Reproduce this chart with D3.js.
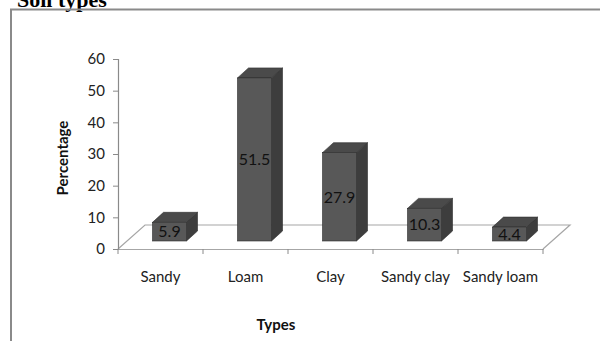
<!DOCTYPE html>
<html>
<head>
<meta charset="utf-8">
<script src="https://cdn.jsdelivr.net/npm/d3@7"></script>
<style>
  body { margin: 0; background: #fff; }
  text { font-family: Lato, "Open Sans", sans-serif; }
</style>
</head>
<body>
<div id="chart"></div>
<script>
// chart data
const categories = ["Sandy", "Loam", "Clay", "Sandy clay", "Sandy loam"];
const percentages = [5.9, 51.5, 27.9, 10.3, 4.4];
const yTicks = [0, 10, 20, 30, 40, 50, 60];

const svgWidth = 600;
const svgHeight = 341;

// front plane of the 3d box
const plot = { left: 118, right: 543, top: 59, bottom: 249 };
// floor depth and the bar's own depth
const floorDepth = { dx: 27, dy: -24 };
const barFront = { dx: 9, dy: -8 };
const barDepth = { dx: 11, dy: -10 };

const svg = d3.select("#chart")
  .append("svg")
  .attr("width", svgWidth)
  .attr("height", svgHeight);

// title, mostly cut off at the top
svg.append("text")
  .attr("x", 17)
  .attr("y", 7)
  .style("font-family", "'Liberation Serif', 'Times New Roman', serif")
  .style("font-weight", "bold")
  .style("font-size", "22px")
  .text("Soil types");

// frame
svg.append("path")
  .attr("d", `M11,${svgHeight} L11,9.5 L${svgWidth},9.5`)
  .attr("fill", "none")
  .attr("stroke", "#8a8a8a")
  .attr("stroke-width", 2);

const xScale = d3.scaleBand()
  .domain(categories)
  .range([plot.left, plot.right])
  .paddingInner(0.6)
  .paddingOuter(0.3);

const yScale = d3.scaleLinear()
  .domain([0, 60])
  .range([plot.bottom, plot.top]);

// floor
const floor = svg.append("g");
floor.append("path")
  .attr("d", `M${plot.left},${plot.bottom}
    L${plot.left + floorDepth.dx},${plot.bottom + floorDepth.dy}
    L${plot.right + floorDepth.dx},${plot.bottom + floorDepth.dy}
    L${plot.right},${plot.bottom}`)
  .attr("fill", "none")
  .attr("stroke", "#a6a6a6")
  .attr("stroke-width", 1.2);

// y axis
const leftAxis = d3.axisLeft(yScale)
  .tickValues(yTicks)
  .tickSize(5)
  .tickPadding(8);

const yAxis = svg.append("g")
  .attr("transform", `translate(${plot.left},0)`)
  .call(leftAxis);
yAxis.select(".domain").attr("stroke", "#8a8a8a").attr("stroke-width", 1.2);
yAxis.selectAll(".tick line").attr("stroke", "#8a8a8a");
yAxis.selectAll(".tick text")
  .style("font-size", "15px")
  .attr("fill", "#222");

// x axis with ticks between categories
const bottomAxis = d3.axisBottom(xScale).tickSize(0).tickPadding(22);
const xAxis = svg.append("g")
  .attr("transform", `translate(0,${plot.bottom})`)
  .call(bottomAxis);
xAxis.select(".domain").attr("stroke", "#a6a6a6").attr("stroke-width", 1.2);
xAxis.selectAll(".tick text")
  .style("font-size", "15px")
  .attr("fill", "#222");

const step = xScale.step();
const bounds = d3.range(categories.length + 1).map(i => plot.left + i * step);
xAxis.selectAll(".sep")
  .data(bounds)
  .enter()
  .append("line")
  .attr("x1", d => d)
  .attr("x2", d => d)
  .attr("y1", 0)
  .attr("y2", 5)
  .attr("stroke", "#8a8a8a");

// bars
const bars = svg.selectAll(".bar")
  .data(categories.map((c, i) => ({ cat: c, value: percentages[i] })))
  .enter()
  .append("g")
  .attr("class", "bar");

function x0(d) { return xScale(d.cat) + barFront.dx; }
function x1(d) { return x0(d) + xScale.bandwidth(); }
function yTop(d) { return yScale(d.value) + barFront.dy; }
const yBase = plot.bottom + barFront.dy;

// side face
bars.append("path")
  .attr("d", d => `M${x1(d)},${yTop(d)} L${x1(d) + barDepth.dx},${yTop(d) + barDepth.dy}
    L${x1(d) + barDepth.dx},${yBase + barDepth.dy} L${x1(d)},${yBase} Z`)
  .attr("fill", "#3d3d3d")
  .attr("stroke", "#2e2e2e")
  .attr("stroke-width", 0.6);

// top face
bars.append("path")
  .attr("d", d => `M${x0(d)},${yTop(d)} L${x0(d) + barDepth.dx},${yTop(d) + barDepth.dy}
    L${x1(d) + barDepth.dx},${yTop(d) + barDepth.dy} L${x1(d)},${yTop(d)} Z`)
  .attr("fill", "#4a4a4a")
  .attr("stroke", "#2e2e2e")
  .attr("stroke-width", 0.6);

// front face
bars.append("rect")
  .attr("x", d => x0(d))
  .attr("y", d => yTop(d))
  .attr("width", xScale.bandwidth())
  .attr("height", d => yBase - yTop(d))
  .attr("fill", "#585858")
  .attr("stroke", "#2e2e2e")
  .attr("stroke-width", 0.6);

// value labels
bars.append("text")
  .attr("x", d => (x0(d) + x1(d)) / 2)
  .attr("y", d => (yTop(d) + yBase) / 2)
  .attr("text-anchor", "middle")
  .attr("dy", "0.36em")
  .style("font-size", "16px")
  .attr("fill", "#111")
  .text(d => d.value);

// axis titles
svg.append("text")
  .attr("transform", "translate(68,158) rotate(-90)")
  .attr("text-anchor", "middle")
  .style("font-size", "15px")
  .style("font-weight", "bold")
  .attr("fill", "#111")
  .text("Percentage");

svg.append("text")
  .attr("x", 276)
  .attr("y", 330)
  .attr("text-anchor", "middle")
  .style("font-size", "15px")
  .style("font-weight", "bold")
  .attr("fill", "#111")
  .text("Types");
</script>
</body>
</html>
